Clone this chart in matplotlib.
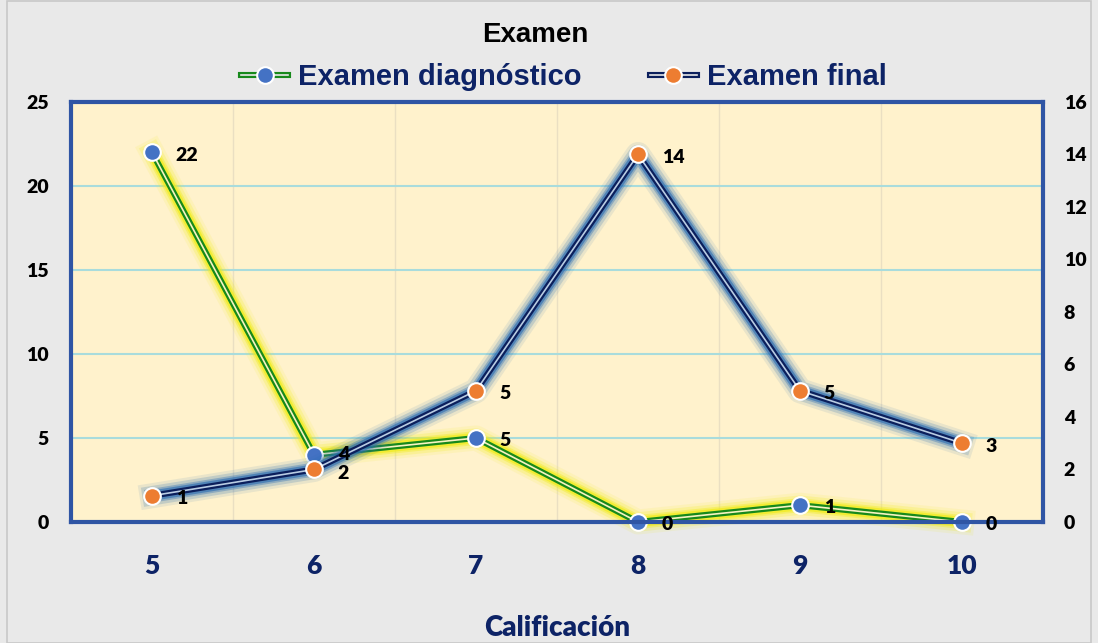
import matplotlib
matplotlib.use("Agg")
import matplotlib.pyplot as plt
import matplotlib.patheffects as pe
from matplotlib.lines import Line2D
from matplotlib.patches import Rectangle

# data
categorias = ["5", "6", "7", "8", "9", "10"]
diagnostico = [22, 4, 5, 0, 1, 0]
final = [1, 2, 5, 14, 5, 3]

titulo = "Examen"
nombre_diag = "Examen diagnóstico"
nombre_final = "Examen final"
eje_x = "Calificación"

NAVY = "#0D2366"
GREEN = "#17891B"
DARK = "#0B1F5C"
BLUE_MK = "#4472C4"
ORANGE_MK = "#ED7D31"
PLOT_BG = "#FFF2CC"
FIG_BG = "#E9E9E9"

num_font = ["Lato", "DejaVu Sans"]
leg_font = ["Liberation Sans Narrow", "Liberation Sans", "DejaVu Sans"]


def glow(color, widths=(18, 14, 10, 7.5), alphas=(0.10, 0.20, 0.35, 0.6)):
    effects = []
    for w, a in zip(widths, alphas):
        effects.append(pe.Stroke(linewidth=w, foreground=color, alpha=a))
    effects.append(pe.Normal())
    return effects


def draw_series(ax, x, y, line_color, glow_color, stripe, marker_color, z):
    ax.plot(x, y, color=line_color, linewidth=4.4, solid_joinstyle="round",
            path_effects=glow(glow_color), zorder=z, clip_on=False)
    ax.plot(x, y, color=stripe, linewidth=1.2, zorder=z + 0.1, clip_on=False)
    ax.plot(x, y, linestyle="none", marker="o", markersize=12,
            markerfacecolor=marker_color, markeredgecolor="white",
            markeredgewidth=1.5, zorder=z + 0.2, clip_on=False)


def draw_labels(top_ax, data_ax, x, y, dy):
    # labels go on the top axes so the other series' glow does not hide them
    for xi, yi, d in zip(x, y, dy):
        top_ax.annotate(str(yi), (xi, yi), xycoords=data_ax.transData,
                        xytext=(17, d), textcoords="offset points",
                        ha="left", va="center", fontsize=14, fontweight="heavy",
                        family=num_font, color="black", zorder=10)


def main():
    fig = plt.figure(figsize=(10.98, 6.43), dpi=100)
    fig.patch.set_facecolor(FIG_BG)
    fig.add_artist(Rectangle((0.006, 0.0), 0.988, 0.998, transform=fig.transFigure,
                             fill=False, edgecolor="#C8C8C8", linewidth=1.2))

    ax = fig.add_axes([0.0647, 0.1882, 0.8852, 0.6532])
    ax.set_facecolor(PLOT_BG)
    ax2 = ax.twinx()

    x = list(range(len(categorias)))

    ax.set_xlim(-0.5, len(categorias) - 0.5)
    ax.set_ylim(0, 25)
    ax.set_yticks(range(0, 26, 5))
    ax2.set_ylim(0, 16)
    ax2.set_yticks(range(0, 17, 2))

    # gridlines
    for v in range(5, 26, 5):
        ax.axhline(v, color="#A9DCDC", linewidth=1.5, zorder=0.5)
    for b in range(len(categorias) - 1):
        ax.axvline(b + 0.5, color="#EADFC2", linewidth=1.0, zorder=0.4)

    draw_series(ax, x, diagnostico, GREEN, "#F0EC10", "#F7F3C0", BLUE_MK, 2)
    draw_series(ax2, x, final, DARK, "#2A6CB3", "#B9CCE3", ORANGE_MK, 3)
    draw_labels(ax2, ax, x, diagnostico, [-2, 0, -2, -2, -2, -2])
    draw_labels(ax2, ax2, x, final, [-2, -3, -2, -2, -2, -2])

    ax.set_xticks(x)
    ax.set_xticklabels(categorias)
    ax.tick_params(axis="x", length=0, pad=23, labelsize=19, labelcolor=NAVY)
    ax.tick_params(axis="y", length=0, pad=16, labelsize=14, labelcolor="black")
    ax2.tick_params(axis="y", length=0, pad=15, labelsize=14, labelcolor="black")
    for lab in ax.get_xticklabels() + ax.get_yticklabels() + ax2.get_yticklabels():
        lab.set_fontweight("heavy")
        lab.set_family(num_font)

    ax.set_xlabel(eje_x, fontsize=20, fontweight="heavy", color=NAVY,
                  family=num_font, labelpad=27)

    for s in ax.spines.values():
        s.set_color("#2F55A4")
        s.set_linewidth(3.0)
    for s in ax2.spines.values():
        s.set_visible(False)

    fig.text(535 / 1098, 1 - 35 / 643, titulo, ha="center", va="center",
             fontsize=20, fontweight="bold", color="black",
             family=["Liberation Sans", "DejaVu Sans"])

    h1 = (Line2D([], [], color=GREEN, linewidth=4.4),
          Line2D([], [], color=FIG_BG, linewidth=1.2),
          Line2D([], [], linestyle="none", marker="o", markersize=12,
                 markerfacecolor=BLUE_MK, markeredgecolor="white", markeredgewidth=1.5))
    h2 = (Line2D([], [], color=DARK, linewidth=4.4),
          Line2D([], [], color=FIG_BG, linewidth=1.2),
          Line2D([], [], linestyle="none", marker="o", markersize=12,
                 markerfacecolor=ORANGE_MK, markeredgecolor="white", markeredgewidth=1.5))
    fig.legend([h1, h2], [nombre_diag, nombre_final], loc="center",
               bbox_to_anchor=(564 / 1098, 1 - 77 / 643), ncol=2, frameon=False,
               handlelength=1.6, handletextpad=0.35, columnspacing=2.35,
               prop={"family": leg_font, "weight": "bold", "size": 21},
               labelcolor=NAVY)

    fig.savefig("out.png", dpi=100, facecolor=fig.get_facecolor())


if __name__ == "__main__":
    main()
